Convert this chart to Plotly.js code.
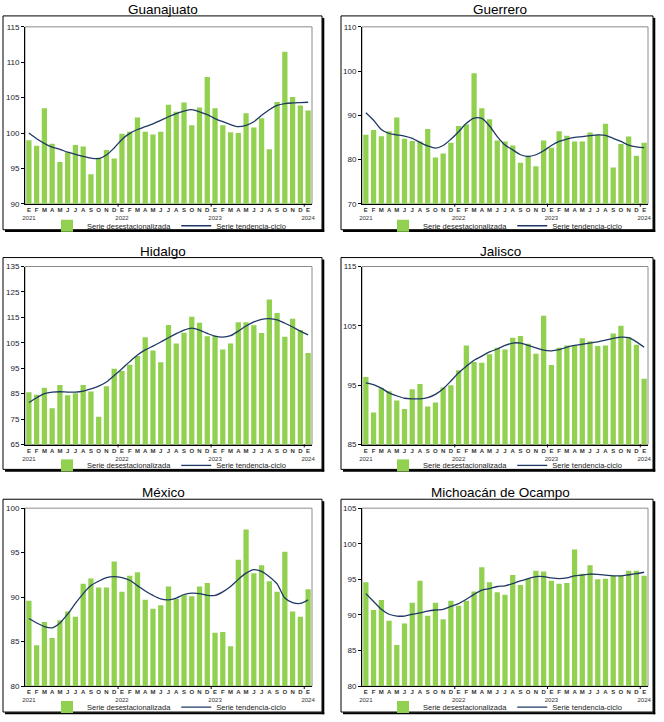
<!DOCTYPE html>
<html><head><meta charset="utf-8">
<script src="https://cdn.plot.ly/plotly-3.0.1.min.js"></script>
<style>html,body{margin:0;padding:0;background:#fff}#chart{width:664px;height:722px}</style>
</head><body><div id="chart"></div>
<script>
const periods = ["2021-01","2021-02","2021-03","2021-04","2021-05","2021-06","2021-07","2021-08","2021-09","2021-10","2021-11","2021-12",
"2022-01","2022-02","2022-03","2022-04","2022-05","2022-06","2022-07","2022-08","2022-09","2022-10","2022-11","2022-12",
"2023-01","2023-02","2023-03","2023-04","2023-05","2023-06","2023-07","2023-08","2023-09","2023-10","2023-11","2023-12","2024-01"];
const monthLetters = ["E","F","M","A","M","J","J","A","S","O","N","D","E","F","M","A","M","J","J","A","S","O","N","D",
"E","F","M","A","M","J","J","A","S","O","N","D","E"];
const yearLabels = ["2021","","","","","","","","","","","","2022","","","","","","","","","","","",
"2023","","","","","","","","","","","","2024"];
const barName = "Serie desestacionalizada";
const lineName = "Serie tendencia-ciclo";

const guanajuatoBars = [99.0,98.2,103.5,98.5,95.9,97.3,98.3,98.1,94.2,96.5,97.6,96.4,99.9,100.2,102.2,100.2,99.8,100.2,104.0,103.0,104.3,101.1,103.6,107.9,103.5,101.1,100.1,100.0,102.8,100.8,102.1,97.7,104.4,111.5,105.1,103.9,103.2];
const guanajuatoTrend = [100.0,99.2,98.55,98.0,97.7,97.3,97.0,96.7,96.45,96.4,96.9,97.9,99.1,99.95,100.5,100.9,101.3,101.8,102.3,102.75,103.1,103.3,103.0,102.6,102.05,101.6,101.2,100.9,101.1,101.6,102.5,103.3,103.9,104.15,104.25,104.3,104.35];

const guerreroBars = [85.6,86.7,85.3,86.4,89.5,84.7,84.2,84.1,86.9,80.5,81.4,83.8,87.6,88.0,99.5,91.6,89.1,84.3,84.1,83.2,79.3,80.6,78.5,84.3,82.7,86.4,85.4,84.1,84.1,86.1,85.6,88.1,78.2,83.5,85.2,80.9,83.8];
const guerreroTrend = [90.6,88.9,86.8,85.9,85.6,85.3,84.8,83.9,83.1,82.6,83.2,84.6,86.3,88.2,89.4,89.3,87.6,85.2,83.3,82.2,81.1,80.7,81.1,82.0,83.2,84.1,84.65,85.0,85.2,85.4,85.6,85.5,84.8,84.1,83.3,82.9,82.7];

const hidalgoBars = [85.6,84.6,87.3,79.3,88.4,84.4,85.2,88.4,85.9,75.9,87.9,94.8,93.9,96.4,99.8,107.2,102.0,97.4,112.0,104.7,109.0,115.2,112.9,107.6,107.7,102.4,104.7,113.1,113.1,111.9,108.9,122.0,116.7,107.4,114.5,110.0,101.0];
const hidalgoTrend = [81.5,83.4,85.0,85.6,85.75,85.6,85.6,86.0,86.9,88.0,89.6,92.1,94.8,97.6,100.2,102.2,103.7,105.3,107.0,108.6,110.0,110.8,110.0,108.7,107.6,107.2,107.8,109.6,111.6,113.2,114.25,114.5,114.0,112.7,111.2,109.6,108.1];

const jaliscoBars = [96.4,90.4,94.5,94.0,92.4,91.0,94.3,95.2,91.4,92.1,94.6,95.0,97.5,101.7,98.9,98.8,100.2,101.3,101.0,103.0,103.3,102.0,100.3,106.7,98.4,101.3,101.7,101.7,102.9,102.4,101.6,101.7,103.7,105.0,103.1,101.8,96.1];
const jaliscoTrend = [95.4,95.1,94.5,93.7,93.2,92.8,92.7,92.7,92.9,93.45,94.4,95.7,97.1,98.2,99.2,99.9,100.6,101.1,101.7,102.1,102.1,101.7,101.3,100.9,100.8,101.0,101.4,101.7,101.9,102.1,102.3,102.6,102.9,103.1,103.0,102.3,101.4];

const mexicoBars = [89.6,84.6,87.2,85.4,87.4,88.4,87.8,91.5,92.1,91.1,91.1,94.0,90.6,92.4,92.8,89.7,88.7,89.1,91.2,89.8,90.3,90.1,91.2,91.6,86.0,86.1,84.5,94.2,97.6,92.7,93.6,91.8,90.6,95.1,88.4,87.8,90.9];
const mexicoTrend = [87.6,87.1,86.7,86.55,87.1,88.1,89.3,90.4,91.3,91.8,92.2,92.3,92.2,91.9,91.3,90.7,90.2,89.8,89.7,89.9,90.3,90.45,90.4,90.2,90.2,90.6,91.2,92.0,92.7,93.1,92.9,92.3,91.5,89.9,89.4,89.3,89.7];

const michoacanBars = [94.6,90.7,92.1,89.2,85.8,88.8,91.7,94.8,89.9,91.7,89.4,92.0,91.3,92.0,93.3,96.7,94.6,93.2,92.85,95.6,94.2,95.1,96.2,96.1,94.8,94.4,94.5,99.2,95.8,97.0,95.0,95.1,95.5,95.5,96.2,96.2,95.5];
const michoacanTrend = [93.0,91.9,90.8,90.1,89.85,89.85,90.1,90.3,90.55,90.7,90.8,91.2,91.6,92.2,92.9,93.5,93.7,94.0,94.1,94.4,94.8,95.1,95.4,95.4,95.2,95.1,95.2,95.5,95.6,95.75,95.7,95.6,95.5,95.5,95.65,95.8,96.0];

const panels = [
  {name:"Guanajuato", bars:guanajuatoBars, trend:guanajuatoTrend, range:[90,115], dtick:5},
  {name:"Guerrero", bars:guerreroBars, trend:guerreroTrend, range:[70,110], dtick:10},
  {name:"Hidalgo", bars:hidalgoBars, trend:hidalgoTrend, range:[65,135], dtick:10},
  {name:"Jalisco", bars:jaliscoBars, trend:jaliscoTrend, range:[85,115], dtick:10},
  {name:"México", bars:mexicoBars, trend:mexicoTrend, range:[80,100], dtick:5},
  {name:"Michoacán de Ocampo", bars:michoacanBars, trend:michoacanTrend, range:[80,105], dtick:5}
];

// ---- layout geometry (pixels) ----
const W = 664, H = 722;
const px = p => p / W, py = p => 1 - p / H;
const plotX = [[25,312],[362,648]];
const plotY = [[27,205],[268,447],[511,690]];
const frameX = [[3,322],[341,653]];
const frameY = [[16,231],[259,472],[502,716]];
const titleY = [10,253,495];
const titleX = [163,500];
const legendY = [227,468,711];
const legendX = [169,505];

const FONT = "Liberation Sans, Arial, sans-serif";
const tickText = monthLetters.map((m,i) => yearLabels[i] ? "<b>"+m+"</b><br>"+yearLabels[i] : "<b>"+m+"</b>");

const traces = [];
const layout = {
  width: W, height: H, margin:{l:0,r:0,t:0,b:0},
  paper_bgcolor:"#fff", plot_bgcolor:"#fff",
  font:{family:FONT, color:"#222"},
  bargap:0.32, showlegend:true,
  shapes:[], annotations:[]
};

panels.forEach((p,k) => {
  const col = k % 2, row = Math.floor(k/2);
  const n = k + 1;
  const xa = n === 1 ? "x" : "x"+n, ya = n === 1 ? "y" : "y"+n;
  const xk = n === 1 ? "xaxis" : "xaxis"+n, yk = n === 1 ? "yaxis" : "yaxis"+n;
  const lg = n === 1 ? "legend" : "legend"+n;

  traces.push({type:"bar", x:periods, y:p.bars, xaxis:xa, yaxis:ya, name:barName, legend:lg,
    marker:{color:"#92D050", line:{width:0}}, hoverinfo:"x+y"});
  traces.push({type:"scatter", mode:"lines", x:periods, y:p.trend, xaxis:xa, yaxis:ya, name:lineName, legend:lg,
    line:{color:"#1F3864", width:1.3, shape:"spline", smoothing:0.8}, hoverinfo:"x+y"});

  layout[xk] = {domain:[px(plotX[col][0]), px(plotX[col][1])], anchor:ya, type:"category",
    range:[-0.5, periods.length-0.5], tickvals:periods, ticktext:tickText, ticks:"", ticklen:0,
    tickangle:0, tickfont:{size:6, color:"#333", family:FONT}, showline:true, linecolor:"#000", linewidth:1,
    showgrid:false, zeroline:false, fixedrange:true};
  layout[yk] = {domain:[py(plotY[row][1]), py(plotY[row][0])], anchor:xa, range:p.range, dtick:p.dtick,
    tick0:p.range[0], ticks:"outside", ticklen:3, tickcolor:"#000", tickwidth:1,
    tickfont:{size:8, color:"#1a1a2e", family:FONT}, showline:true, linecolor:"#000", linewidth:1,
    showgrid:false, zeroline:false, fixedrange:true};
  layout[lg] = {orientation:"h", x:px(legendX[col]), y:py(legendY[row]), xanchor:"center", yanchor:"middle",
    xref:"paper", yref:"paper", font:{size:7.5, color:"#222", family:FONT}, bgcolor:"rgba(0,0,0,0)",
    itemwidth:30, tracegroupgap:0};

  // plot-area border (gray)
  layout.shapes.push({type:"rect", xref:xa+" domain", yref:ya+" domain", x0:0, x1:1, y0:0, y1:1,
    line:{color:"#8c8c8c", width:1}, layer:"below"});
  // year-boundary ticks on the x axis
  yearLabels.forEach((yl,i) => {
    if (yl && i > 0) layout.shapes.push({type:"line", xref:xa, yref:ya+" domain", x0:i-0.5, x1:i-0.5,
      y0:0, y1:-0.016, line:{color:"#000", width:1}});
  });
  // panel frame with shadow
  const fx0 = frameX[col][0], fx1 = frameX[col][1], fy0 = frameY[row][0], fy1 = frameY[row][1];
  layout.shapes.push({type:"rect", xref:"paper", yref:"paper", x0:px(fx0), x1:px(fx1), y0:py(fy1), y1:py(fy0),
    line:{color:"#000", width:1}});
  layout.shapes.push({type:"line", xref:"paper", yref:"paper", x0:px(fx1+1.2), x1:px(fx1+1.2), y0:py(fy0+2), y1:py(fy1+2.2),
    line:{color:"#000", width:2.2}});
  layout.shapes.push({type:"line", xref:"paper", yref:"paper", x0:px(fx0+2), x1:px(fx1+2.2), y0:py(fy1+1.2), y1:py(fy1+1.2),
    line:{color:"#000", width:2.2}});
  // title
  layout.annotations.push({xref:"paper", yref:"paper", x:px(titleX[col]), y:py(titleY[row]), xanchor:"center", yanchor:"middle",
    text:p.name, showarrow:false, font:{size:13.5, color:"#000", family:FONT}});
});

Plotly.newPlot("chart", traces, layout, {displayModeBar:false, responsive:false});
</script></body></html>
